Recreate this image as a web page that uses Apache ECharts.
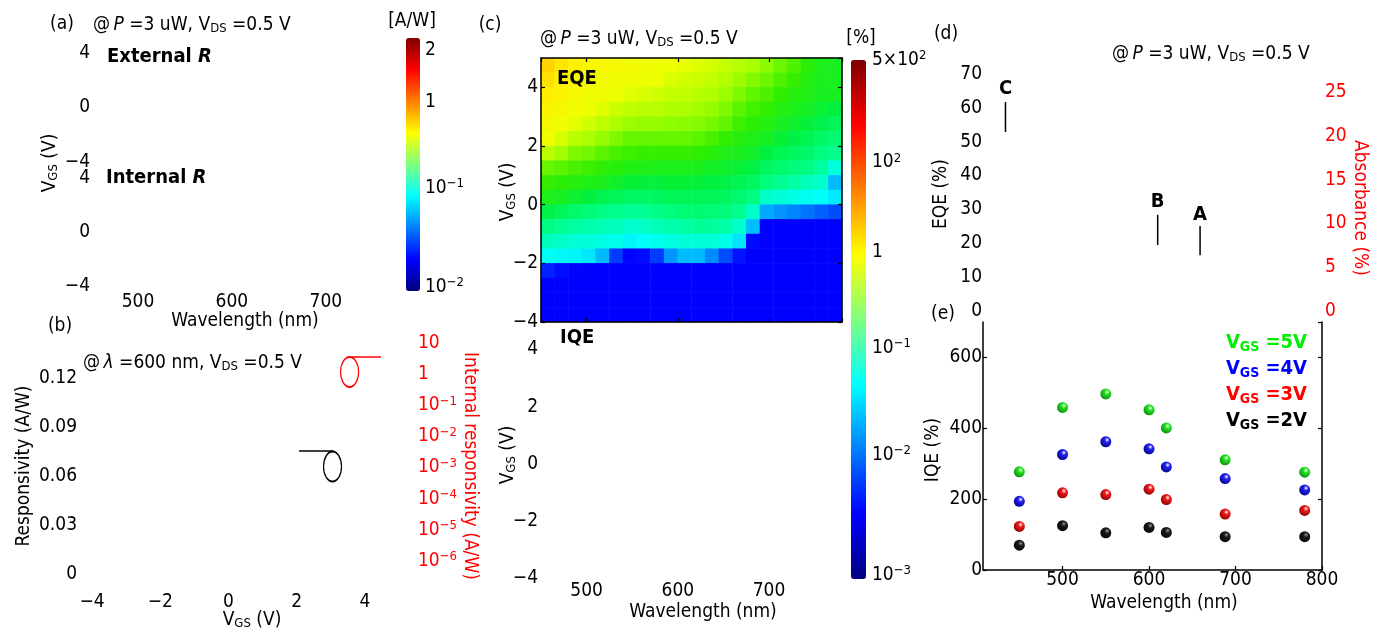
<!DOCTYPE html>
<html><head><meta charset="utf-8">
<script src="https://cdn.jsdelivr.net/npm/echarts@6/dist/echarts.min.js"></script>
<style>html,body{margin:0;padding:0;background:#fff}#c{width:1376px;height:633px}</style>
</head><body><div id="c"></div>
<script>
// ---------------- DATA ----------------
// (e) IQE vs wavelength
const iqeWavelengths = [450, 500, 550, 600, 620, 688, 780];
const iqeVgs5V = [277, 459, 497, 452, 401, 311, 276];
const iqeVgs4V = [194, 326, 362, 342, 291, 258, 226];
const iqeVgs3V = [123, 218, 213, 228, 199, 158, 168];
const iqeVgs2V = [70, 125, 105, 120, 106, 94, 94];

// (c) EQE map: log10(EQE %) per wavelength column, rows follow eqeMapVgs
const eqeMapWavelengths = [457.5,472.5,487.5,502.5,517.5,532.5,547.5,562.5,577.5,592.5,607.5,622.5,637.5,652.5,667.5,682.5,697.5,712.5,727.5,742.5,757.5,772.5];
const eqeMapVgs = [4.75,4.25,3.75,3.25,2.75,2.25,1.75,1.25,0.75,0.25,-0.25,-0.75,-1.25,-1.75,-2.25,-2.75,-3.25,-3.75];
const eqeMapLog10 = [
 [0.25,0.18,0.11,0.04,-0.02,-0.09,-0.25,-0.41,-0.49,-0.58,-0.72,-0.88,-1.09,-1.31,-2.17,-2.5,-2.5,-2.5],
 [0.15,0.09,0.04,-0.02,-0.07,-0.17,-0.31,-0.43,-0.52,-0.6,-0.77,-0.94,-1.13,-1.33,-2.28,-2.5,-2.5,-2.5],
 [0.07,0.02,-0.02,-0.07,-0.13,-0.25,-0.37,-0.46,-0.54,-0.65,-0.82,-0.99,-1.17,-1.35,-2.41,-2.5,-2.5,-2.5],
 [0.02,-0.02,-0.06,-0.1,-0.19,-0.29,-0.39,-0.48,-0.57,-0.69,-0.85,-1.02,-1.19,-1.42,-2.45,-2.5,-2.5,-2.5],
 [0,-0.04,-0.08,-0.15,-0.24,-0.33,-0.43,-0.51,-0.59,-0.74,-0.89,-1.05,-1.22,-1.61,-2.5,-2.5,-2.5,-2.5],
 [-0.02,-0.06,-0.11,-0.2,-0.29,-0.37,-0.46,-0.54,-0.63,-0.77,-0.92,-1.09,-1.26,-2.06,-2.5,-2.5,-2.5,-2.5],
 [-0.04,-0.08,-0.14,-0.23,-0.32,-0.41,-0.48,-0.56,-0.67,-0.8,-0.96,-1.15,-1.35,-2.4,-2.5,-2.5,-2.5,-2.5],
 [-0.06,-0.1,-0.17,-0.25,-0.33,-0.41,-0.49,-0.57,-0.68,-0.8,-0.94,-1.12,-1.3,-2.28,-2.5,-2.5,-2.5,-2.5],
 [-0.08,-0.11,-0.19,-0.26,-0.33,-0.41,-0.49,-0.58,-0.68,-0.79,-0.9,-1.08,-1.26,-2.06,-2.5,-2.5,-2.5,-2.5],
 [-0.1,-0.16,-0.22,-0.28,-0.34,-0.41,-0.49,-0.58,-0.67,-0.77,-0.87,-1.03,-1.22,-1.74,-2.5,-2.5,-2.5,-2.5],
 [-0.12,-0.18,-0.23,-0.29,-0.35,-0.41,-0.49,-0.58,-0.67,-0.76,-0.85,-1.0,-1.19,-1.6,-2.5,-2.5,-2.5,-2.5],
 [-0.15,-0.2,-0.26,-0.31,-0.36,-0.43,-0.51,-0.59,-0.68,-0.76,-0.84,-0.96,-1.18,-1.61,-2.5,-2.5,-2.5,-2.5],
 [-0.18,-0.23,-0.28,-0.33,-0.38,-0.46,-0.54,-0.62,-0.7,-0.77,-0.85,-0.97,-1.19,-1.78,-2.5,-2.5,-2.5,-2.5],
 [-0.22,-0.27,-0.32,-0.37,-0.42,-0.5,-0.57,-0.64,-0.72,-0.79,-0.86,-1.01,-1.24,-2.0,-2.5,-2.5,-2.5,-2.5],
 [-0.26,-0.32,-0.37,-0.43,-0.48,-0.54,-0.59,-0.67,-0.75,-0.83,-0.92,-1.15,-1.44,-2.25,-2.5,-2.5,-2.5,-2.5],
 [-0.3,-0.36,-0.42,-0.47,-0.52,-0.57,-0.63,-0.71,-0.79,-0.88,-1.13,-1.59,-2.31,-2.5,-2.5,-2.5,-2.5,-2.5],
 [-0.35,-0.4,-0.45,-0.5,-0.55,-0.61,-0.7,-0.79,-0.87,-1.13,-1.66,-2.5,-2.5,-2.5,-2.5,-2.5,-2.5,-2.5],
 [-0.4,-0.45,-0.5,-0.55,-0.6,-0.67,-0.75,-0.83,-0.93,-1.19,-1.74,-2.5,-2.5,-2.5,-2.5,-2.5,-2.5,-2.5],
 [-0.45,-0.49,-0.54,-0.58,-0.64,-0.71,-0.79,-0.86,-1.01,-1.24,-1.8,-2.5,-2.5,-2.5,-2.5,-2.5,-2.5,-2.5],
 [-0.52,-0.55,-0.57,-0.61,-0.68,-0.75,-0.82,-0.89,-1.08,-1.27,-1.86,-2.5,-2.5,-2.5,-2.5,-2.5,-2.5,-2.5],
 [-0.58,-0.59,-0.6,-0.66,-0.73,-0.8,-0.87,-0.98,-1.14,-1.3,-1.93,-2.5,-2.5,-2.5,-2.5,-2.5,-2.5,-2.5],
 [-0.6,-0.6,-0.6,-0.7,-0.77,-0.84,-0.91,-1.2,-1.6,-1.4,-2.0,-2.5,-2.5,-2.5,-2.5,-2.5,-2.5,-2.5]
];

// (b) axis-indicator marks (V_GS, responsivity A/W)
const bInternalEllipse = [3.55, 0.1237];
const bInternalLeader = [[3.6, 0.1329], [4.47, 0.1329]];
const bExternalEllipse = [3.05, 0.0658];
const bExternalLeader = [[2.07, 0.0753], [3.07, 0.0753]];

// (d) peak markers: wavelength (nm), EQE (%)
const dPeakLetters = ['C', 'B', 'A'];
const dPeakWavelengths = [434, 610, 659];
const dPeakLetterEqe = [65.6, 32.2, 28.4];
const dPeakTickTop = [61.7, 28.4, 25.1];
const dPeakTickBottom = [52.9, 19.5, 16.5];

// colorbar tick labels
const awColorbarExponents = [null, null, -1, -2];
const awColorbarTexts = ['2', '1', '', ''];
const pctColorbarExponents = [2, 2, null, -1, -2, -3];
const pctColorbarPrefix = ['5×', '', '1', '', '', ''];

// ---------------- STYLE / LAYOUT ----------------
const FONT = "'DejaVu Sans Condensed','DejaVu Sans',sans-serif";
const FS = 19;
const MINUS = '\u2212';
const fmt = v => String(v).replace('-', MINUS);
const pow10 = e => '{n|10}{s|' + (e < 0 ? MINUS : '') + Math.abs(e) + '}';
const JET = ['#00007f','#0000ff','#007fff','#00ffff','#7fff7f','#ffff00','#ff7f00','#ff0000','#7f0000'];
const HEAT = ['#0000ff','#0008ff','#0030ff','#0068ff','#00a0ff','#00d8ff','#00fff8','#00ffc0','#00ff88','#00f040','#30ee00','#a8ff00','#eeff00','#fff000','#ffc800'];
// colorbar geometry and the bar fraction where each tick label sits
const awBar = {left: 406, top: 38, width: 14, height: 253};
const awBarFrac = [0.953, 0.747, 0.407, 0.016];
const pctBar = {left: 851, top: 60, width: 15, height: 519};
const pctBarFrac = [1.0, 0.803, 0.63, 0.445, 0.239, 0.008];

const AX_RICH = {
  n: {fontSize: FS, fontFamily: FONT},
  s: {fontSize: 13, fontFamily: FONT, verticalAlign: 'top', padding: [0, 0, 8, 0]}
};
const G_RICH = {
  n: {fontSize: FS, fontFamily: FONT},
  i: {fontSize: FS, fontFamily: FONT, fontStyle: 'italic'},
  s: {fontSize: 13, fontFamily: FONT, verticalAlign: 'top', padding: [0, 0, 8, 0]},
  b: {fontSize: 13, fontFamily: FONT, verticalAlign: 'bottom', padding: [8, 0, 0, 0]},
  B: {fontSize: 20, fontFamily: FONT, fontWeight: 'bold'},
  Bi: {fontSize: 20, fontFamily: FONT, fontWeight: 'bold', fontStyle: 'italic'},
  Bb: {fontSize: 14, fontFamily: FONT, fontWeight: 'bold', verticalAlign: 'bottom', padding: [8, 0, 0, 0]}
};

function T(x, y, text, o) {
  o = o || {};
  return {type: 'text', x: x, y: y, rotation: o.rot || 0, z: 100,
    style: {text: text, fontFamily: FONT, fontSize: FS, fill: o.fill || '#000',
      align: o.align || 'center', verticalAlign: 'middle', rich: G_RICH}};
}
const VGS = '{n|V}{b|GS}{n| (V)}';
const atP = '{n|@\u2009}{i|P}{n| =3 uW, V}{b|DS}{n| =0.5 V}';
const R90 = Math.PI / 2;

const lab = (extra) => Object.assign({fontSize: FS, fontFamily: FONT, color: '#000', rich: AX_RICH}, extra || {});
const noLine = {axisLine: {show: false, onZero: false}, axisTick: {show: false}, splitLine: {show: false}};
const frameLine = {axisLine: {show: true, onZero: false, lineStyle: {color: '#000', width: 1.5}},
  axisTick: {show: true, inside: true, length: 4, lineStyle: {color: '#000', width: 1.2}}, splitLine: {show: false}, z: 10};

// ---------------- BUILD ----------------
const heatData = [];
eqeMapLog10.forEach((col, i) => col.forEach((v, j) => heatData.push([i, j, v])));

function ball(c, dark, hi) {
  return {type: 'radial', x: 0.62, y: 0.33, r: 0.8,
    colorStops: [{offset: 0, color: hi || '#ffffff'}, {offset: 0.28, color: c}, {offset: 1, color: dark}]};
}
const iqeSeries = [[iqeVgs5V, '#22e622', '#0b7a0b'], [iqeVgs4V, '#2020f0', '#00007a'],
  [iqeVgs3V, '#f01818', '#7a0000'], [iqeVgs2V, '#1a1a1a', '#000000', '#9a9a9a']].map(s => ({
  type: 'scatter', xAxisIndex: 8, yAxisIndex: 10, symbolSize: 11,
  data: iqeWavelengths.map((w, k) => [w, s[0][k]]),
  itemStyle: {color: ball(s[1], s[2], s[3]), opacity: 1}
}));

const ELLIPSE = 'path://M50 0 A50 50 0 1 1 50 100 A50 50 0 1 1 50 0 Z';

const graphics = [
  T(62, 24, '{n|(a)}'), T(93, 25, atP, {align: 'left'}), T(412, 21, '{n|[A/W]}'),
  T(107, 57, '{B|External }{Bi|R}', {align: 'left'}), T(106, 178, '{B|Internal }{Bi|R}', {align: 'left'}),
  T(50, 163, VGS, {rot: R90}), T(245, 321, '{n|Wavelength (nm)}'),
  T(60, 326, '{n|(b)}'), T(83, 363, '{n|@\u2009}{i|λ}{n| =600 nm, V}{b|DS}{n| =0.5 V}', {align: 'left'}),
  T(24, 466, '{n|Responsivity (A/W)}', {rot: R90}),
  T(470, 466, '{n|Internal responsivity (A/W)}', {rot: -R90, fill: '#ff0000'}),
  T(252, 620, VGS),
  T(490, 25, '{n|(c)}'), T(540, 39, atP, {align: 'left'}), T(861, 38, '{n|[%]}'),
  T(557, 79, '{B|EQE}', {align: 'left'}), T(560, 338, '{B|IQE}', {align: 'left'}),
  T(508, 192, VGS, {rot: R90}), T(508, 455, VGS, {rot: R90}), T(703, 612, '{n|Wavelength (nm)}'),
  T(946, 34, '{n|(d)}'), T(1112, 54, atP, {align: 'left'}),
  T(941, 194, '{n|EQE (%)}', {rot: R90}), T(1360, 208, '{n|Absorbance (%)}', {rot: -R90, fill: '#ff0000'}),
  T(943, 314, '{n|(e)}'), T(933, 450, '{n|IQE (%)}', {rot: R90}), T(1164, 603, '{n|Wavelength (nm)}'),
  T(1307, 343, '{B|V}{Bb|GS}{B| =5V}', {align: 'right', fill: '#00ee00'}),
  T(1307, 369, '{B|V}{Bb|GS}{B| =4V}', {align: 'right', fill: '#0000ff'}),
  T(1307, 395, '{B|V}{Bb|GS}{B| =3V}', {align: 'right', fill: '#ff0000'}),
  T(1307, 421, '{B|V}{Bb|GS}{B| =2V}', {align: 'right', fill: '#000000'})
];
awBarFrac.forEach((f, k) => graphics.push(T(awBar.left + awBar.width + 5, awBar.top + (1 - f) * awBar.height,
  awColorbarExponents[k] === null ? '{n|' + awColorbarTexts[k] + '}' : pow10(awColorbarExponents[k]), {align: 'left'})));
pctBarFrac.forEach((f, k) => {
  const e = pctColorbarExponents[k];
  const t = e === null ? '{n|' + pctColorbarPrefix[k] + '}' : (pctColorbarPrefix[k] ? '{n|' + pctColorbarPrefix[k] + '}' : '') + pow10(e);
  graphics.push(T(pctBar.left + pctBar.width + 6, pctBar.top + (1 - f) * pctBar.height, t, {align: 'left'}));
});

const option = {
  animation: false,
  textStyle: {fontFamily: FONT},
  grid: [
    {left: 91, top: 39, width: 310, height: 123},
    {left: 91, top: 165, width: 310, height: 121},
    {left: 92, top: 340, width: 290, height: 234},
    {left: 541, top: 58, width: 301, height: 264},
    {left: 541, top: 58, width: 301, height: 264},
    {left: 541, top: 321, width: 301, height: 257},
    {left: 983, top: 65, width: 339, height: 246},
    {left: 983, top: 322, width: 339, height: 248}
  ],
  xAxis: [
    Object.assign({gridIndex: 0, type: 'value', min: 450, max: 780, splitNumber: 3, axisLabel: {show: false}}, noLine),
    Object.assign({gridIndex: 1, type: 'value', min: 450, max: 780, splitNumber: 3,
      axisLabel: lab({margin: 7, showMinLabel: false, showMaxLabel: false})}, noLine),
    Object.assign({gridIndex: 2, type: 'value', min: -4, max: 4.5, interval: 2,
      axisLabel: lab({margin: 19, showMaxLabel: false, formatter: fmt})}, noLine),
    {gridIndex: 3, type: 'category', data: eqeMapWavelengths, show: false, boundaryGap: true},
    Object.assign({gridIndex: 4, type: 'value', min: 450, max: 780, splitNumber: 3, position: 'bottom', axisLabel: {show: false}}, frameLine),
    Object.assign({gridIndex: 4, type: 'value', min: 450, max: 780, splitNumber: 3, position: 'top', axisLabel: {show: false}}, frameLine),
    Object.assign({gridIndex: 5, type: 'value', min: 450, max: 780, splitNumber: 3,
      axisLabel: lab({margin: 4, showMinLabel: false, showMaxLabel: false})}, noLine),
    Object.assign({gridIndex: 6, type: 'value', min: 408, max: 800, splitNumber: 4, axisLabel: {show: false}}, noLine),
    Object.assign({gridIndex: 7, type: 'value', min: 408, max: 800, splitNumber: 4,
      axisLabel: lab({margin: 1, showMinLabel: false, showMaxLabel: true})}, frameLine)
  ],
  yAxis: [
    Object.assign({gridIndex: 0, type: 'value', min: -4, max: 5, interval: 4,
      axisLabel: lab({margin: 1, showMaxLabel: false, formatter: fmt})}, noLine),
    Object.assign({gridIndex: 1, type: 'value', min: -4, max: 5, interval: 4,
      axisLabel: lab({margin: 1, showMaxLabel: false, formatter: fmt})}, noLine),
    Object.assign({gridIndex: 2, type: 'value', min: 0, max: 0.1433, interval: 0.03,
      axisLabel: lab({margin: 15, showMaxLabel: false})}, noLine),
    Object.assign({gridIndex: 2, type: 'log', logBase: 10, position: 'right',
      min: Math.pow(10, -6.418), max: Math.pow(10, 1.096), splitNumber: 8,
      axisLabel: lab({margin: 36, color: '#ff0000', showMinLabel: false, showMaxLabel: false,
        formatter: v => { const e = Math.round(Math.log10(v)); return e === 1 ? '{n|10}' : e === 0 ? '{n|1}' : pow10(e); }})}, noLine),
    {gridIndex: 3, type: 'category', data: eqeMapVgs, inverse: true, show: false, boundaryGap: true},
    Object.assign({gridIndex: 4, type: 'value', min: -4, max: 5, interval: 2, position: 'left',
      axisLabel: lab({margin: 3, showMaxLabel: false, formatter: fmt})}, frameLine),
    Object.assign({gridIndex: 4, type: 'value', min: -4, max: 5, interval: 2, position: 'right', axisLabel: {show: false}}, frameLine),
    Object.assign({gridIndex: 5, type: 'value', min: -4, max: 5, interval: 2,
      axisLabel: lab({margin: 3, showMaxLabel: false, formatter: fmt})}, noLine),
    Object.assign({gridIndex: 6, type: 'value', min: 0, max: 72.65, interval: 10,
      axisLabel: lab({margin: 1, showMaxLabel: false})}, noLine),
    Object.assign({gridIndex: 6, type: 'value', min: 0, max: 28.08, interval: 5, position: 'right',
      axisLabel: lab({margin: 3, color: '#ff0000', showMaxLabel: false})}, noLine),
    Object.assign({gridIndex: 7, type: 'value', min: 0, max: 700, interval: 200, position: 'left',
      axisLabel: lab({margin: 1, showMaxLabel: false})}, frameLine),
    Object.assign({gridIndex: 7, type: 'value', min: 0, max: 700, interval: 200, position: 'right', axisLabel: {show: false}}, frameLine)
  ],
  visualMap: [
    {type: 'continuous', show: false, seriesIndex: 1, dimension: 2, min: -2.5, max: 0.3, inRange: {color: HEAT}},
    {type: 'continuous', show: true, seriesIndex: 0, min: 0, max: 1, calculable: false, hoverLink: false,
      left: awBar.left, top: awBar.top, itemWidth: awBar.width, itemHeight: awBar.height, padding: 0, inRange: {color: JET}},
    {type: 'continuous', show: true, seriesIndex: 0, min: 0, max: 1, calculable: false, hoverLink: false,
      left: pctBar.left, top: pctBar.top, itemWidth: pctBar.width, itemHeight: pctBar.height, padding: 0, inRange: {color: JET}}
  ],
  series: [
    {type: 'scatter', xAxisIndex: 0, yAxisIndex: 0, data: []},
    {type: 'heatmap', xAxisIndex: 3, yAxisIndex: 4, data: heatData, progressive: 0, itemStyle: {borderWidth: 0}, emphasis: {disabled: true}},
    {type: 'scatter', xAxisIndex: 2, yAxisIndex: 2, data: [bInternalEllipse], symbol: ELLIPSE, symbolSize: [18, 30],
      itemStyle: {color: 'rgba(0,0,0,0)', borderColor: '#ff0000', borderWidth: 1.5, opacity: 1}},
    {type: 'line', xAxisIndex: 2, yAxisIndex: 2, data: bInternalLeader, symbol: 'none', lineStyle: {color: '#ff0000', width: 1.5}},
    {type: 'scatter', xAxisIndex: 2, yAxisIndex: 2, data: [bExternalEllipse], symbol: ELLIPSE, symbolSize: [18, 30],
      itemStyle: {color: 'rgba(0,0,0,0)', borderColor: '#000000', borderWidth: 1.5, opacity: 1}},
    {type: 'line', xAxisIndex: 2, yAxisIndex: 2, data: bExternalLeader, symbol: 'none', lineStyle: {color: '#000000', width: 1.5}}
  ].concat(dPeakLetters.map((L, k) => ({
    type: 'line', xAxisIndex: 7, yAxisIndex: 8, symbol: 'none', lineStyle: {color: '#000', width: 1.5},
    data: [[dPeakWavelengths[k], dPeakTickTop[k]], [dPeakWavelengths[k], dPeakTickBottom[k]]]
  }))).concat([{
    type: 'scatter', xAxisIndex: 7, yAxisIndex: 8, symbolSize: 1, itemStyle: {color: 'rgba(0,0,0,0)', opacity: 1},
    data: dPeakLetters.map((L, k) => [dPeakWavelengths[k], dPeakLetterEqe[k], L]),
    label: {show: true, position: 'inside', formatter: p => p.value[2], fontSize: 20, fontWeight: 'bold', fontFamily: FONT, color: '#000', opacity: 1}
  }]).concat(iqeSeries),
  graphic: graphics
};
const chart = echarts.init(document.getElementById('c'), null, {renderer: 'canvas'});
chart.setOption(option);
</script></body></html>
